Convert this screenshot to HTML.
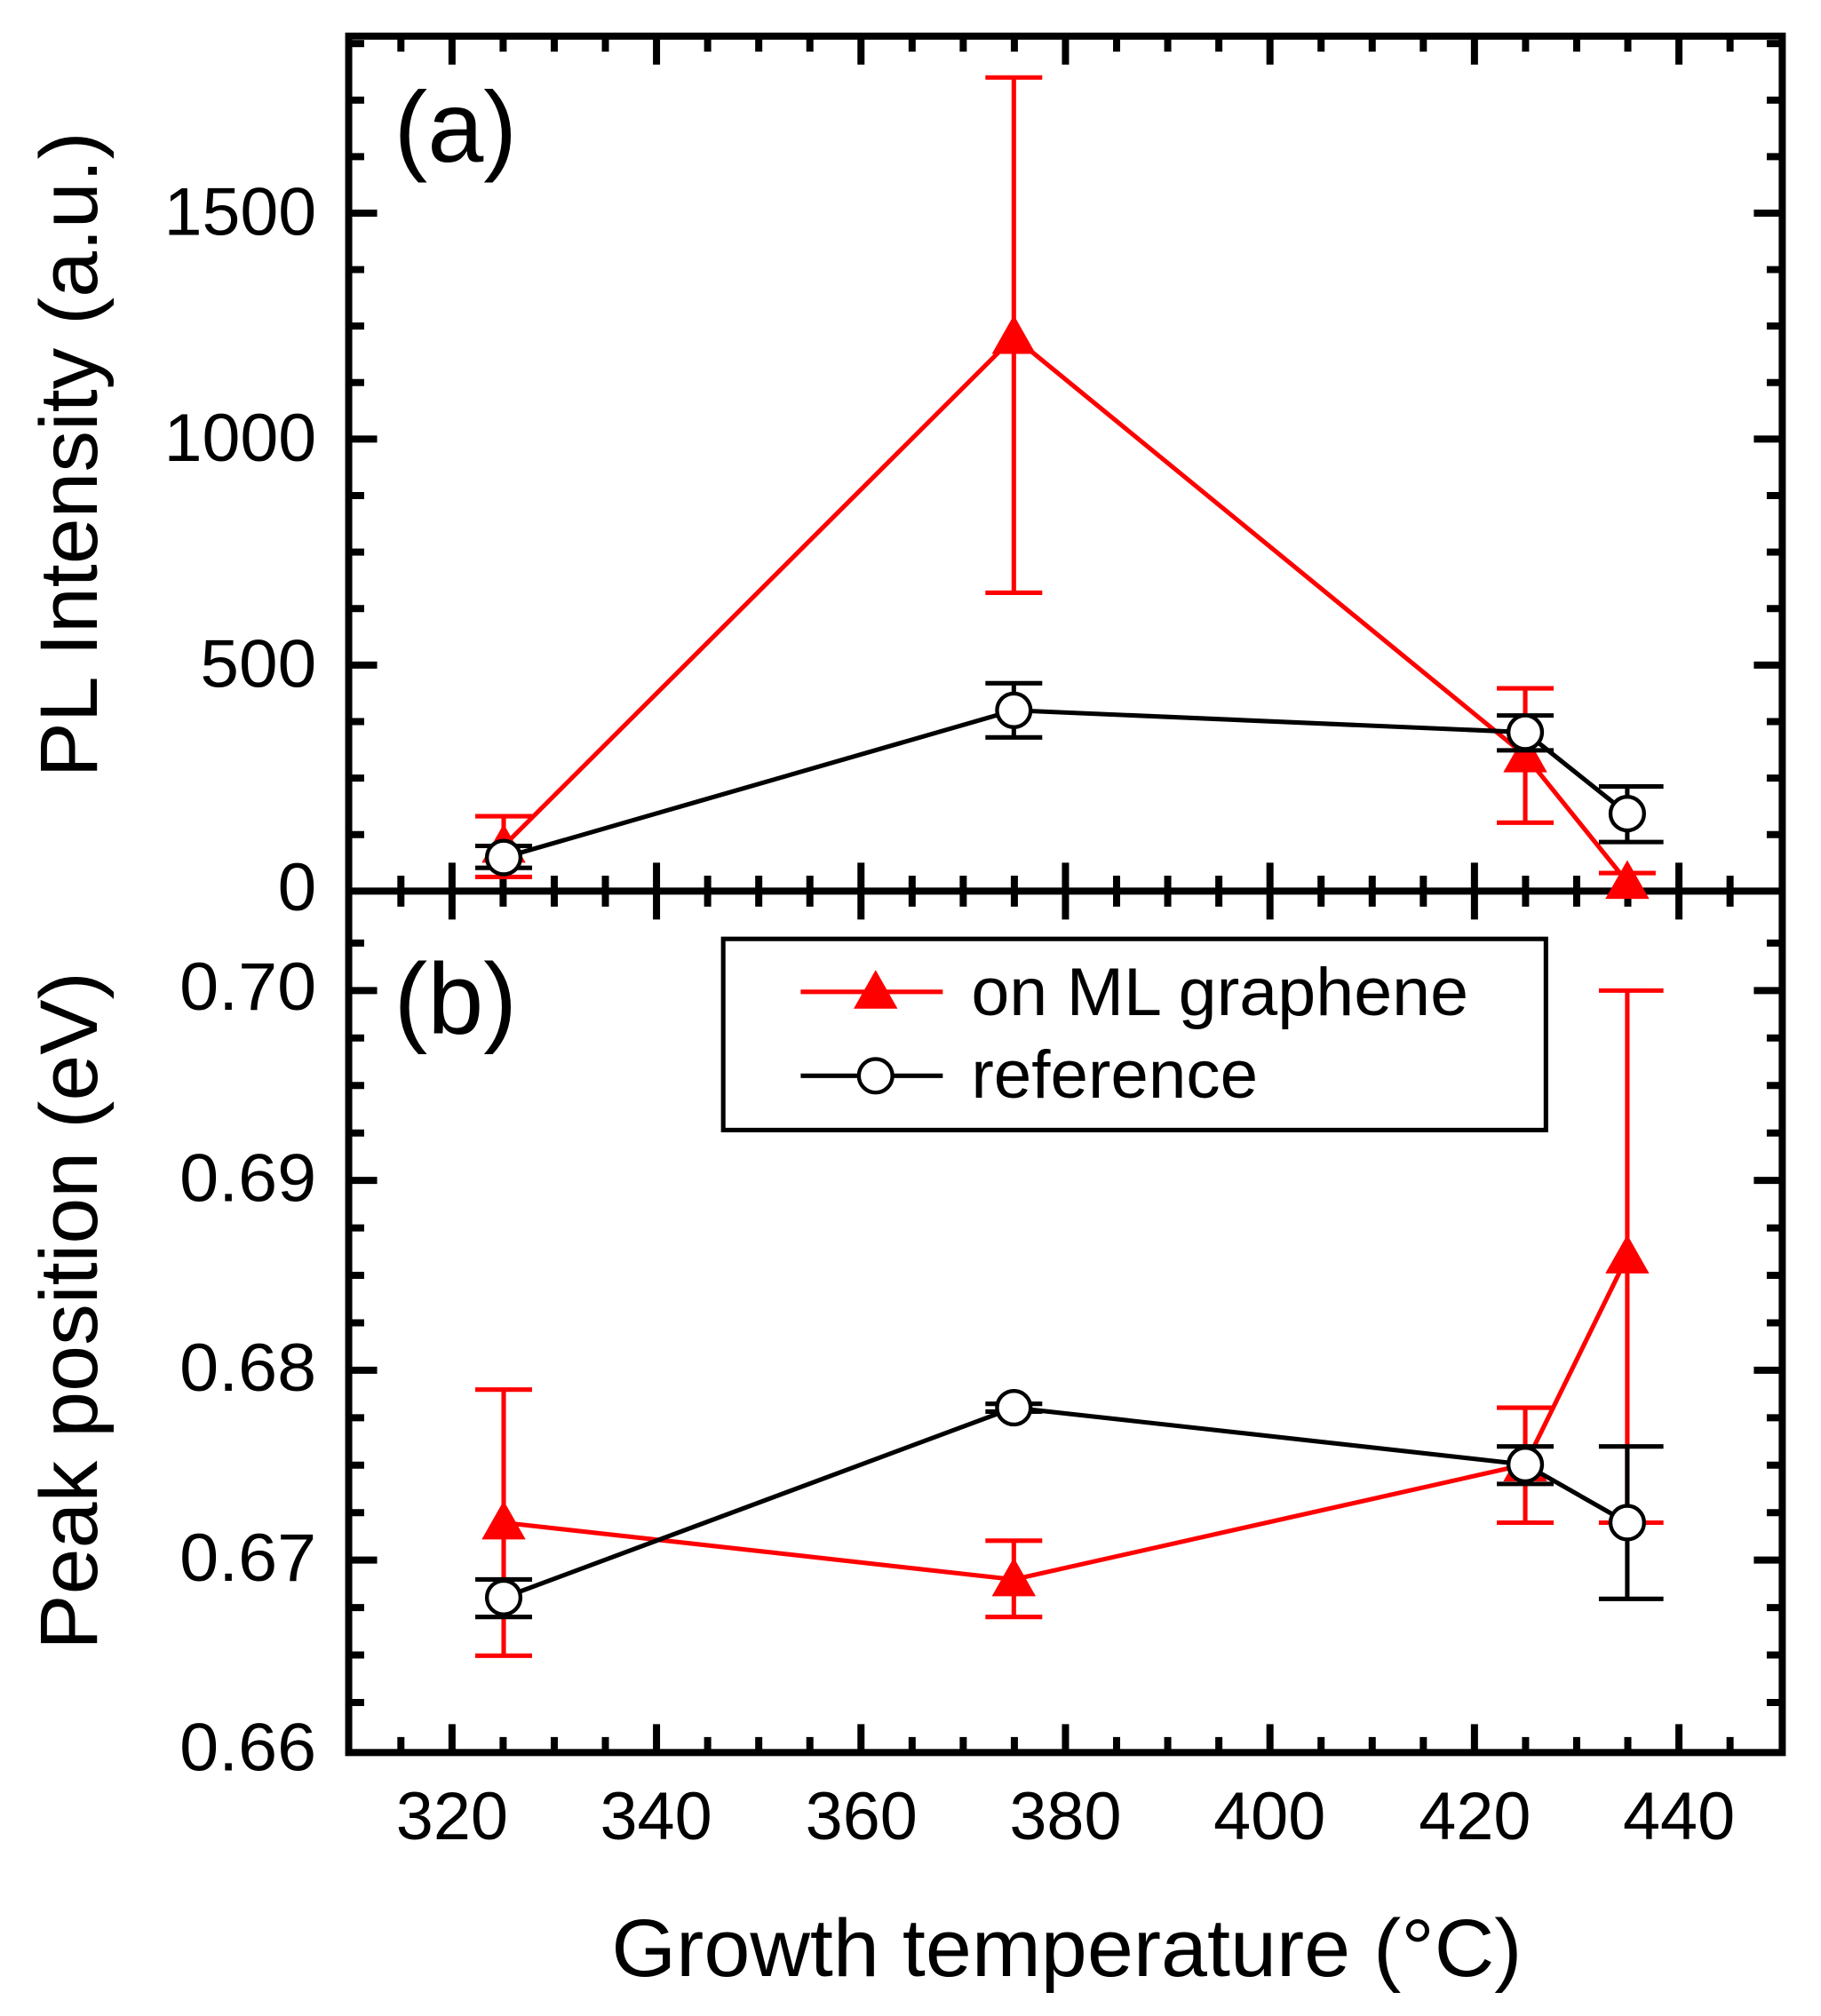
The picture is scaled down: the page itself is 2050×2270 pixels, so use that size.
<!DOCTYPE html>
<html><head><meta charset="utf-8"><style>html,body{margin:0;padding:0;background:#fff}svg{display:block}</style></head>
<body>
<svg id="s" width="2050" height="2270" viewBox="0 0 1410 1561" preserveAspectRatio="none" xmlns="http://www.w3.org/2000/svg" font-family="Liberation Sans, Arial, sans-serif">
<g id="ticks" stroke="#000" stroke-width="5.5"></g>
<g fill="none" stroke="#000" stroke-width="5.5">
<rect x="270" y="28" width="1110" height="1329"/>
<line x1="270" y1="690" x2="1380" y2="690"/>
</g>
<g font-size="52" text-anchor="end" fill="#000">
<text x="245" y="705" textLength="30" lengthAdjust="spacingAndGlyphs">0</text>
<text x="245" y="532" textLength="90" lengthAdjust="spacingAndGlyphs">500</text>
<text x="245" y="357" textLength="118" lengthAdjust="spacingAndGlyphs">1000</text>
<text x="245" y="182" textLength="118" lengthAdjust="spacingAndGlyphs">1500</text>
<text x="245" y="782" textLength="106" lengthAdjust="spacingAndGlyphs">0.70</text>
<text x="245" y="930" textLength="106" lengthAdjust="spacingAndGlyphs">0.69</text>
<text x="245" y="1077" textLength="106" lengthAdjust="spacingAndGlyphs">0.68</text>
<text x="245" y="1224" textLength="106" lengthAdjust="spacingAndGlyphs">0.67</text>
<text x="245" y="1371" textLength="106" lengthAdjust="spacingAndGlyphs">0.66</text>
</g>
<g font-size="52" text-anchor="middle" fill="#000">
<text x="350" y="1424">320</text><text x="508" y="1424">340</text><text x="667" y="1424">360</text>
<text x="825" y="1424">380</text><text x="983" y="1424">400</text><text x="1142" y="1424">420</text><text x="1300" y="1424">440</text>
</g>
<text x="826" y="1530" font-size="63" text-anchor="middle" textLength="705" lengthAdjust="spacingAndGlyphs">Growth temperature (°C)</text>
<text transform="translate(75,352) rotate(-90)" font-size="63" text-anchor="middle" textLength="500" lengthAdjust="spacingAndGlyphs">PL Intensity (a.u.)</text>
<text transform="translate(75,1015) rotate(-90)" font-size="63" text-anchor="middle" textLength="525" lengthAdjust="spacingAndGlyphs">Peak position (eV)</text>
<text x="305" y="125" font-size="78">(a)</text>
<text x="305" y="800" font-size="78">(b)</text>
<g stroke="#f00" stroke-width="3.5" fill="none">
<polyline points="390,655 785,261 1181,585 1260,683"/>
<path d="M390,679 V632 M368,679 H412 M368,632 H412
M785,459 V60 M763,459 H807 M763,60 H807
M1181,637 V533 M1159,637 H1203 M1159,533 H1203
M1260,690 V676 M1238,676 H1282"/>
</g>
<g fill="#f00">
<path d="M390,638 l17,30 h-34z"/><path d="M785,244 l17,30 h-34z"/><path d="M1181,568 l17,30 h-34z"/><path d="M1260,666 l17,30 h-34z"/>
</g>
<g stroke="#000" stroke-width="3.5" fill="none">
<polyline points="390,664 785,550 1181,567 1260,630"/>
<path d="M390,672 V655 M368,672 H412 M368,655 H412
M785,571 V529 M763,571 H807 M763,529 H807
M1181,581 V554 M1159,581 H1203 M1159,554 H1203
M1260,652 V609 M1238,652 H1288 M1238,609 H1288"/>
</g>
<g stroke="#000" stroke-width="3" fill="#fff">
<circle cx="390" cy="664" r="13"/><circle cx="785" cy="550" r="13"/><circle cx="1181" cy="567" r="13"/><circle cx="1260" cy="630" r="13"/>
</g>
<g stroke="#f00" stroke-width="3.5" fill="none">
<polyline points="390,1179 785,1223 1181,1134 1260,973"/>
<path d="M390,1282 V1076 M368,1282 H412 M368,1076 H412
M785,1252 V1193 M763,1252 H807 M763,1193 H807
M1181,1179 V1090 M1159,1179 H1203 M1159,1090 H1203
M1260,1179 V767 M1238,1179 H1288 M1238,767 H1288"/>
</g>
<g fill="#f00">
<path d="M390,1162 l17,30 h-34z"/><path d="M785,1206 l17,30 h-34z"/><path d="M1181,1117 l17,30 h-34z"/><path d="M1260,956 l17,30 h-34z"/>
</g>
<g stroke="#000" stroke-width="3.5" fill="none">
<polyline points="390,1237 785,1090 1181,1134 1260,1179"/>
<path d="M390,1252 V1223 M368,1252 H412 M368,1223 H412
M763,1093 H807 M763,1087 H807
M1181,1149 V1120 M1159,1149 H1203 M1159,1120 H1203
M1260,1238 V1120 M1238,1238 H1288 M1238,1120 H1288"/>
</g>
<g stroke="#000" stroke-width="3" fill="#fff">
<circle cx="390" cy="1237" r="13"/><circle cx="785" cy="1090" r="13"/><circle cx="1181" cy="1134" r="13"/><circle cx="1260" cy="1179" r="13"/>
</g>
<rect x="560" y="727" width="637" height="148" fill="#fff" stroke="#000" stroke-width="3.5"/>
<line x1="620" y1="768" x2="730" y2="768" stroke="#f00" stroke-width="3.5"/>
<path d="M678,751 l17,30 h-34z" fill="#f00"/>
<line x1="620" y1="833" x2="730" y2="833" stroke="#000" stroke-width="3.5"/>
<circle cx="678" cy="833" r="13" fill="#fff" stroke="#000" stroke-width="3"/>
<text x="752" y="786" font-size="52" textLength="385" lengthAdjust="spacingAndGlyphs">on ML graphene</text>
<text x="752" y="850" font-size="52" textLength="222" lengthAdjust="spacingAndGlyphs">reference</text>
</svg>
<script>
var g=document.getElementById('ticks'),h='';
function L(a,b,c,d){h+='<line x1="'+a+'" y1="'+b+'" x2="'+c+'" y2="'+d+'"/>';}
var X=function(t){return 350+(t-320)*950/120;};
for(var t=310;t<=450;t+=5){var x=X(t);if(x<=272||x>=1378)continue;var M=(t%20==0),l=M?22:12;
L(x,1357,x,1357-l);L(x,28,x,28+l);L(x,690-l,x,690+l);}
for(var v=125;v<1900;v+=125){var y=690-v*0.35;if(y<32)continue;var M=(v%500==0),l=M?22:12;L(270,y,270+l,y);L(1380,y,1380-l,y);}
for(var i=1;i<=17;i++){var y=1355-i*36.75;if(y<694)continue;var M=(i%4==0),l=M?22:12;L(270,y,270+l,y);L(1380,y,1380-l,y);}
g.innerHTML=h;
</script>
</body></html>
